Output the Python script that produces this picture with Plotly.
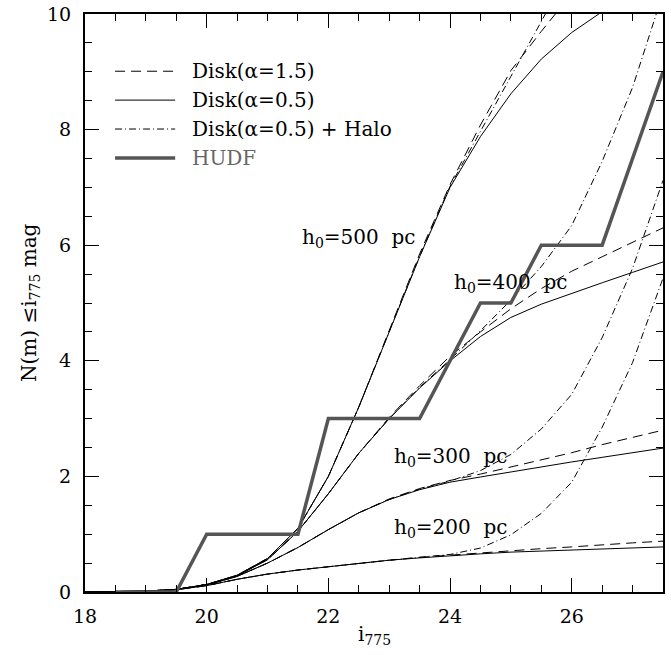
import plotly.graph_objects as go

# ---------------- data ----------------
mag = [18.0, 18.5, 19.0, 19.5, 20.0, 20.5, 21.0, 21.5, 22.0, 22.5,
       23.0, 23.5, 24.0, 24.5, 25.0, 25.5, 26.0, 26.5, 27.0, 27.5]

# h0 = 200 pc
disk15_200 = [0, 0.005, 0.015, 0.04, 0.11, 0.22, 0.31, 0.38, 0.44, 0.50,
              0.55, 0.60, 0.64, 0.68, 0.72, 0.75, 0.78, 0.82, 0.85, 0.88]
disk05_200 = [0, 0.005, 0.015, 0.04, 0.11, 0.22, 0.31, 0.38, 0.44, 0.50,
              0.55, 0.59, 0.63, 0.66, 0.69, 0.71, 0.73, 0.75, 0.77, 0.78]
halo_200 = [0, 0.005, 0.015, 0.04, 0.11, 0.22, 0.31, 0.38, 0.44, 0.50,
            0.55, 0.60, 0.65, 0.76, 0.99, 1.36, 1.90, 2.85, 3.97, 5.43]

# h0 = 300 pc
disk15_300 = [0, 0.005, 0.015, 0.045, 0.12, 0.27, 0.50, 0.77, 1.08, 1.37,
              1.61, 1.79, 1.93, 2.04, 2.16, 2.28, 2.41, 2.55, 2.68, 2.80]
disk05_300 = [0, 0.005, 0.015, 0.045, 0.12, 0.27, 0.50, 0.77, 1.08, 1.37,
              1.60, 1.77, 1.90, 1.99, 2.08, 2.17, 2.25, 2.33, 2.41, 2.49]
halo_300 = [0, 0.005, 0.015, 0.045, 0.12, 0.27, 0.50, 0.77, 1.08, 1.37,
            1.60, 1.78, 1.92, 2.10, 2.38, 2.82, 3.42, 4.40, 5.60, 7.12]

# h0 = 400 pc
disk15_400 = [0, 0.005, 0.015, 0.045, 0.13, 0.28, 0.56, 1.05, 1.70, 2.40,
              3.02, 3.57, 4.08, 4.50, 4.90, 5.25, 5.55, 5.80, 6.05, 6.30]
disk05_400 = [0, 0.005, 0.015, 0.045, 0.13, 0.28, 0.56, 1.05, 1.70, 2.40,
              3.00, 3.53, 4.00, 4.42, 4.75, 4.98, 5.17, 5.35, 5.53, 5.71]
halo_400 = [0, 0.005, 0.015, 0.045, 0.13, 0.28, 0.56, 1.05, 1.70, 2.40,
            3.00, 3.54, 4.02, 4.52, 5.05, 5.63, 6.34, 7.45, 8.73, 10.36]

# h0 = 500 pc
disk15_500 = [0, 0.005, 0.015, 0.045, 0.13, 0.29, 0.58, 1.10, 2.00, 3.20,
              4.52, 5.85, 7.05, 8.08, 9.02, 9.70, 10.35, 10.90, 11.40, 11.90]
disk05_500 = [0, 0.005, 0.015, 0.045, 0.13, 0.29, 0.58, 1.10, 2.00, 3.20,
              4.50, 5.80, 7.00, 7.88, 8.62, 9.22, 9.68, 10.05, 10.40, 10.70]
halo_500 = [0, 0.005, 0.015, 0.045, 0.13, 0.29, 0.58, 1.10, 2.00, 3.20,
            4.50, 5.81, 7.02, 7.98, 8.92, 9.87, 10.85, 12.15, 13.60, 15.35]

# HUDF observed counts
hudf_mag = [18.5, 19.5, 20.0, 21.5, 22.0, 23.5, 24.5, 25.0, 25.5, 26.5, 27.5]
hudf_n = [0, 0, 1, 1, 3, 3, 5, 5, 6, 6, 9]

# curve labels
h0_labels = ["h<sub>0</sub>=500\u00a0\u00a0pc", "h<sub>0</sub>=400\u00a0\u00a0pc",
             "h<sub>0</sub>=300\u00a0\u00a0pc", "h<sub>0</sub>=200\u00a0\u00a0pc"]
h0_label_x = [22.5, 25.0, 24.0, 24.0]
h0_label_y = [6.12, 5.34, 2.33, 1.1]

legend_names = ["Disk(\u03b1=1.5)", "Disk(\u03b1=0.5)", "Disk(\u03b1=0.5) + Halo", "HUDF"]

x_title = "i<sub>775</sub>"
y_title = "N(m) \u2264i<sub>775</sub> mag"

# ---------------- figure ----------------
FONT = "DejaVu Serif"
DASH = "10px,6px"
DASHDOT = "7px,3px,1px,3px"
W, H = 671, 655
ML, MR, MT, MB = 85, 8, 14, 63

fig = go.Figure()

for y15, y05, yh in [(disk15_200, disk05_200, halo_200),
                     (disk15_300, disk05_300, halo_300),
                     (disk15_400, disk05_400, halo_400),
                     (disk15_500, disk05_500, halo_500)]:
    fig.add_trace(go.Scatter(x=mag, y=y15, mode="lines",
                             line=dict(color="black", width=1, dash=DASH),
                             showlegend=False, hoverinfo="skip"))
    fig.add_trace(go.Scatter(x=mag, y=y05, mode="lines",
                             line=dict(color="black", width=1),
                             showlegend=False, hoverinfo="skip"))
    fig.add_trace(go.Scatter(x=mag, y=yh, mode="lines",
                             line=dict(color="black", width=1, dash=DASHDOT),
                             showlegend=False, hoverinfo="skip"))

fig.add_trace(go.Scatter(x=hudf_mag, y=hudf_n, mode="lines",
                         line=dict(color="#555555", width=3.5),
                         showlegend=False, hoverinfo="skip"))

# curve labels
for t, lx, ly in zip(h0_labels, h0_label_x, h0_label_y):
    fig.add_annotation(x=lx, y=ly, text=t, showarrow=False,
                       font=dict(family=FONT, size=20, color="black"),
                       xanchor="center", yanchor="middle")

# manual legend (sample lines + text), in paper coords
leg_y = [0.901, 0.851, 0.801, 0.751]
leg_styles = [dict(color="black", width=1, dash=DASH),
              dict(color="black", width=1),
              dict(color="black", width=1, dash=DASHDOT),
              dict(color="#555555", width=3.5)]
leg_colors = ["black", "black", "black", "#666666"]
for name, yy, st, col in zip(legend_names, leg_y, leg_styles, leg_colors):
    fig.add_shape(type="line", xref="paper", yref="paper",
                  x0=0.052, x1=0.156, y0=yy, y1=yy, line=st)
    fig.add_annotation(xref="paper", yref="paper", x=0.182, y=yy, text=name,
                       showarrow=False, xanchor="left", yanchor="middle",
                       font=dict(family=FONT, size=20, color=col))

# axis titles as annotations (exact placement)
pw = W - ML - MR
ph = H - MT - MB
fig.add_annotation(xref="paper", yref="paper", x=0.5, y=-(635 - (H - MB)) / ph,
                   text=x_title, showarrow=False, xanchor="center", yanchor="middle",
                   font=dict(family=FONT, size=20, color="black"))
fig.add_annotation(xref="paper", yref="paper", x=-(ML - 30) / pw, y=0.5,
                   text=y_title, showarrow=False, xanchor="center", yanchor="middle",
                   textangle=-90,
                   font=dict(family=FONT, size=20, color="black"))

axis_common = dict(
    showline=True, linecolor="black", linewidth=2, mirror="ticks",
    ticks="inside", ticklen=14, tickwidth=1, tickcolor="black",
    showgrid=False, zeroline=False, automargin=False,
    ticklabeloverflow="allow",
    tickfont=dict(family=FONT, size=19, color="black"),
    minor=dict(ticks="inside", ticklen=7, tickwidth=1, tickcolor="black",
               dtick=0.5, showgrid=False),
)

fig.update_xaxes(range=[18, 27.5], tick0=18, dtick=2,
                 ticklabelstandoff=6, **axis_common)
fig.update_yaxes(range=[0, 10], tick0=0, dtick=2,
                 ticklabelstandoff=8, **axis_common)

fig.update_layout(
    width=W, height=H,
    margin=dict(l=ML, r=MR, t=MT, b=MB),
    paper_bgcolor="white", plot_bgcolor="white",
    showlegend=False,
)

# remove the page's default body margin so the figure sits at the window origin
fig.write_html("out.html",
               config={"displayModeBar": False, "staticPlot": True},
               post_script="document.body.style.margin='0';"
                           "document.documentElement.style.margin='0';")
